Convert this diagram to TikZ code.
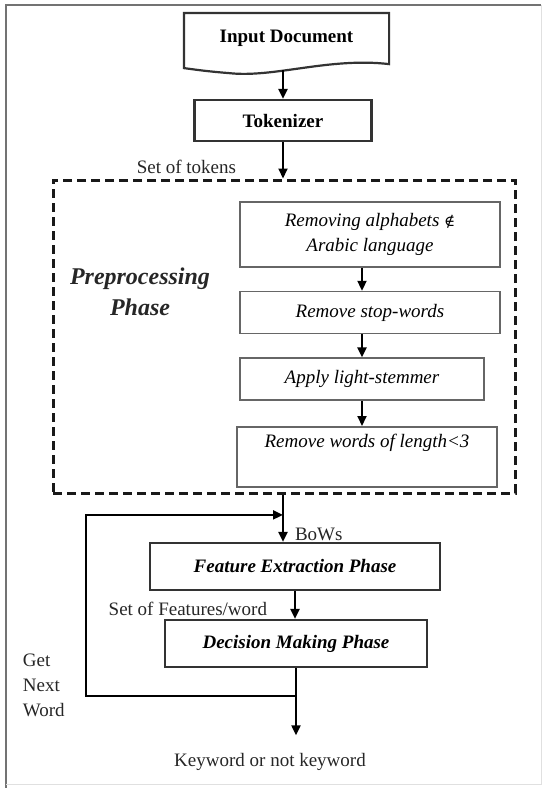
\documentclass[tikz,border=0pt]{standalone}
\usepackage{fontspec}
\setmainfont{Liberation Serif}
\newfontfamily\symfont{DejaVu Serif}
\usepackage{tikz}
\usetikzlibrary{positioning, arrows.meta, calc}

\begin{document}
\begin{tikzpicture}[
    x=1pt, y=-1pt,
    >={Triangle[length=10pt, width=9pt]},
    line width=2pt,
    box/.style={rectangle, draw=black!80, line width=2.2pt, align=center, font=\fontsize{19}{23}\selectfont\bfseries},
    phasebox/.style={box, font=\fontsize{19}{23}\selectfont\bfseries\itshape, minimum height=47pt},
    stepbox/.style={rectangle, draw=black!60, line width=1.6pt, minimum width=260pt, align=center, font=\fontsize{19}{25}\selectfont\itshape},
    lbl/.style={font=\fontsize{19}{25}\selectfont, text=black!85, inner sep=0pt}
]
    \useasboundingbox (0,0) rectangle (543,788);
    % page frame
    \draw[black!55, line width=2pt] (6,788) -- (6,5) -- (541,5);
    \draw[black!12, line width=1pt] (541,5) -- (541,784) -- (6,784);
    % input and tokenizer
    \node[box, draw=none, minimum width=203pt, minimum height=48pt] (doc) at (286.5,38) {Input Document};
    \draw[draw=black!80, line width=2.2pt] (doc.north west) -- (doc.north east) -- ($(doc.south east)+(0,1)$)
        .. controls ($(doc.south east)+(-60,-6)$) and ($(doc.south west)+(90,15)$) .. ($(doc.south west)+(45,10)$)
        .. controls ($(doc.south west)+(20,8)$) and ($(doc.south west)+(8,6)$) .. ($(doc.south west)+(0,5)$) -- cycle;
    \node[box, minimum width=177pt, minimum height=41pt] (tok) at (283,120.5) {Tokenizer};
    % preprocessing block
    \node[draw=black!90, line width=3pt, dash pattern=on 9pt off 5pt, minimum width=462pt, minimum height=313pt] (pre) at (284,336.5) {};
    \node[lbl, font=\fontsize{24}{31}\selectfont\bfseries\itshape, align=center] (phase) at (140,292) {Preprocessing\\Phase};
    \node[stepbox, minimum height=65pt] (s1) at (370,234.5) {Removing alphabets {\symfont\upshape\fontsize{15}{25}\selectfont ∉}\\Arabic language};
    \node[stepbox, minimum height=42pt, below=23pt of s1] (s2) {Remove stop-words};
    \node[stepbox, minimum width=244pt, minimum height=42pt, below=23pt of s2, xshift=-8pt] (s3) {Apply light-stemmer};
    \node[stepbox, minimum height=60pt, below=25pt of s3, xshift=5pt] (s4) {Remove words of length<3\\ \strut};
    % phases
    \node[phasebox, minimum width=290pt] (fe) at (295,566.5) {Feature Extraction Phase};
    \node[phasebox, minimum width=262pt] (dm) at (296,643.5) {Decision Making Phase};
    % labels
    \node[lbl, anchor=south east] (tokens) at ($(tok |- pre.north)+(-46,-4)$) {Set of tokens};
    \node[lbl, anchor=south west] (bows) at ($(pre.south -| tok)+(11,47)$) {BoWs};
    \node[lbl, anchor=south east] (feat) at ($(fe.south)+(-27,26)$) {Set of Features/word};
    \node[lbl, align=left, anchor=west] (gnw) at (22,685) {Get\\Next\\Word};
    \node[lbl] (out) at (270,762) {Keyword or not keyword};
    % arrows
    \draw[->] (doc.south -| tok) ++(0,7) -- (tok);
    \draw[->] (tok) -- (tok |- pre.north);
    \draw[->] (s1.south -| s3) -- (s2.north -| s3);
    \draw[->] (s2.south -| s3) -- (s3);
    \draw[->] (s3) -- (s4.north -| s3);
    \draw[->] (pre.south -| tok) -- (fe.north -| tok);
    \draw[->] (fe.south) -- (fe.south |- dm.north);
    \draw[->, shorten >=17pt] (dm) -- (dm.south |- out.north);
    % feedback loop
    \coordinate (fork) at ($(dm.south)+(0,28)$);
    \coordinate (join) at ($(fe.north -| tok)+(0,-27)$);
    \draw[->] (fork) -| ($(gnw.east)+(20,0)$) |- (join);
\end{tikzpicture}
\end{document}
